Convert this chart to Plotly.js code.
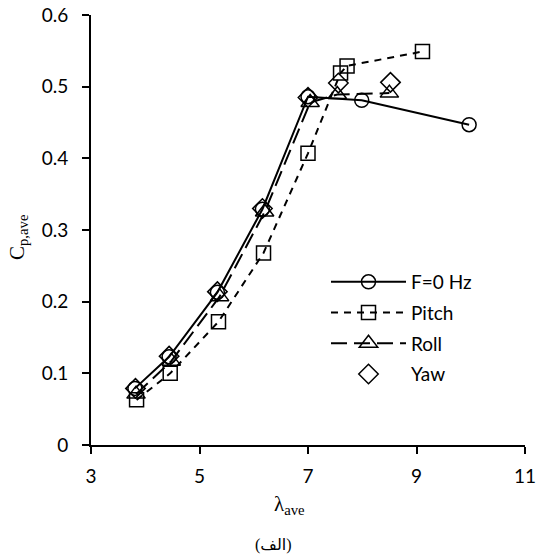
<!DOCTYPE html>
<html>
<head>
<meta charset="utf-8">
<script src="https://cdn.plot.ly/plotly-3.0.1.min.js"></script>
<style>html,body{margin:0;padding:0;background:#fff;}#chart{width:536px;height:560px;}</style>
</head>
<body>
<div id="chart"></div>
<script>
// Data
var f0X = [3.81, 4.44, 5.33, 6.16, 7.00, 7.99, 9.97];
var f0Y = [0.079, 0.123, 0.213, 0.329, 0.486, 0.481, 0.447];

var pitchX = [3.84, 4.46, 5.35, 6.18, 7.00, 7.60, 7.72, 9.11];
var pitchY = [0.063, 0.100, 0.172, 0.268, 0.407, 0.519, 0.529, 0.549];

var rollX = [3.83, 4.48, 5.37, 6.20, 7.04, 7.54, 8.50];
var rollY = [0.071, 0.117, 0.207, 0.325, 0.478, 0.489, 0.491];

var yawX = [3.82, 4.44, 5.33, 6.16, 7.00, 7.56, 8.52];
var yawY = [0.079, 0.124, 0.214, 0.330, 0.485, 0.505, 0.506];

var seriesNames = ["F=0 Hz", "Pitch", "Roll", "Yaw"];
var xTicks = [3, 5, 7, 9, 11];
var yTicks = [0, 0.1, 0.2, 0.3, 0.4, 0.5, 0.6];
var yTickText = ["0", "0.1", "0.2", "0.3", "0.4", "0.5", "0.6"];

var clear = 'rgba(0,0,0,0)';
var traces = [
  {x: f0X, y: f0Y, name: seriesNames[0], mode: 'lines+markers', legendgroup: 'a',
   line: {color: '#000', width: 2},
   marker: {symbol: 'circle', size: 14, color: clear, line: {color: '#000', width: 1.5}}},
  {x: pitchX, y: pitchY, name: seriesNames[1], mode: 'lines+markers', legendgroup: 'b',
   line: {color: '#000', width: 2, dash: '7px,6px'},
   marker: {symbol: 'square', size: 14, color: clear, line: {color: '#000', width: 1.5}}},
  {x: rollX, y: rollY, name: seriesNames[2], mode: 'lines+markers', legendgroup: 'c',
   line: {color: '#000', width: 2, dash: '16px,7px'},
   marker: {symbol: 'triangle-up', size: 16, color: clear, line: {color: '#000', width: 1.5}}},
  {x: yawX, y: yawY, name: seriesNames[3], mode: 'markers', legendgroup: 'd',
   marker: {symbol: 'diamond', size: 15, color: clear, line: {color: '#000', width: 1.5}}}
];

var sans = 'Lato, "Liberation Sans", sans-serif';
var tickFont = {family: sans, size: 19, color: '#000'};

var layout = {
  width: 536, height: 560,
  margin: {l: 91, r: 11, t: 15, b: 115},
  paper_bgcolor: '#fff', plot_bgcolor: '#fff',
  font: {color: '#000'},
  showlegend: true,
  legend: {x: (326 - 91) / 434, y: (445 - 263) / 430, xanchor: 'left', yanchor: 'top',
           font: {family: sans, size: 19, color: '#000'},
           bgcolor: clear, borderwidth: 0, itemwidth: 75,
           traceorder: 'grouped', tracegroupgap: 3},
  xaxis: {range: [3, 11], tickvals: xTicks, ticktext: xTicks.map(String),
          showgrid: false, zeroline: false, showline: true, linecolor: '#000', linewidth: 2,
          ticks: 'outside', ticklen: 7, tickwidth: 2, tickcolor: '#000',
          ticklabelstandoff: 6, ticklabeloverflow: 'allow', tickfont: tickFont, fixedrange: true},
  yaxis: {range: [0, 0.6], tickvals: yTicks, ticktext: yTickText,
          showgrid: false, zeroline: false, showline: true, linecolor: '#000', linewidth: 2,
          ticks: 'outside', ticklen: 7, tickwidth: 2, tickcolor: '#000',
          ticklabelstandoff: 10, ticklabeloverflow: 'allow', tickfont: tickFont, fixedrange: true},
  annotations: [
    {xref: 'paper', yref: 'paper', x: (289 - 91) / 434, y: (445 - 505) / 430,
     xanchor: 'center', yanchor: 'middle', showarrow: false,
     text: 'λ<sub>ave</sub>', font: {family: '"Liberation Serif", serif', size: 21, color: '#000'}},
    {xref: 'paper', yref: 'paper', x: (18 - 91) / 434, y: (445 - 237) / 430,
     xanchor: 'center', yanchor: 'middle', showarrow: false, textangle: -90,
     text: 'C<sub>p,ave</sub>', font: {family: '"Liberation Serif", serif', size: 21, color: '#000'}},
    {xref: 'paper', yref: 'paper', x: (273 - 91) / 434, y: (445 - 545) / 430,
     xanchor: 'center', yanchor: 'middle', showarrow: false,
     text: '(الف)', font: {family: '"Liberation Serif", "DejaVu Sans", serif', size: 16, color: '#000'}}
  ]
};

Plotly.newPlot('chart', traces, layout, {displayModeBar: false, staticPlot: true});
</script>
</body>
</html>
